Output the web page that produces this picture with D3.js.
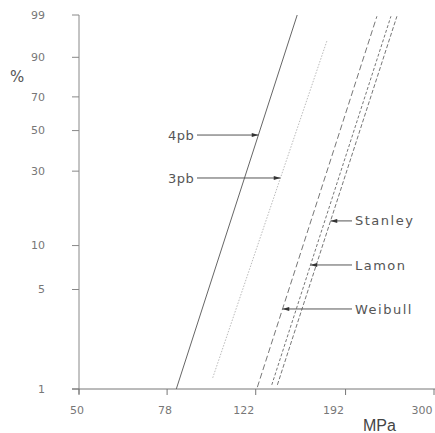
<!DOCTYPE html>
<html lang="en">
<head>
<meta charset="utf-8">
<title>Weibull plot</title>
<script src="https://d3js.org/d3.v7.min.js"></script>
<style>
    body { margin: 0; background: #fff; }
    .tick-label { font-family: "DejaVu Sans", sans-serif; font-size: 11px; fill: #777; }
    .curve-label { font-family: "DejaVu Sans", sans-serif; font-size: 13px; fill: #555; }
</style>
</head>
<body>
<svg id="chart" width="435" height="433"></svg>
<script>
// axis ticks
var xTicks = [50, 78, 122, 192, 300];
var yTicks = [1, 5, 10, 30, 50, 70, 90, 99];

// fitted lines: two end points each (MPa, %)
var series    = ["4pb", "3pb", "Weibull", "Lamon", "Stanley"];
var stressLow = [81.7, 98.2, 123.0, 132.3, 136.1];
var probLow   = [1, 1.2, 1.03, 1.07, 1.07];
var stressHigh = [150.4, 175.0, 224.9, 241.4, 248.8];
var probHigh  = [99, 95.3, 98.9, 98.9, 98.9];
// probability level where each label's arrow hits its line
var labelProb = [47.5, 27.3, 3.66, 7.38, 14.6];

var svg = d3.select("#chart");

var margin = {left: 79, right: 1, top: 15, bottom: 44};
var width = 435, height = 433;

function wb(p) { return Math.log(-Math.log(1 - p / 100)); }

var x = d3.scaleLog()
    .domain([50, 300])
    .range([margin.left, width - margin.right]);

var y = d3.scaleLinear()
    .domain([wb(1), wb(99)])
    .range([height - margin.bottom, margin.top]);

var y0 = y(wb(1));

// y axis
svg.append("line")
    .attr("x1", x(50)).attr("x2", x(50))
    .attr("y1", y(wb(99))).attr("y2", y0 + 5)
    .attr("stroke", "#888").attr("stroke-width", 1);

svg.selectAll(".ytick")
    .data(yTicks)
    .enter().append("line")
    .attr("x1", x(50) - 7).attr("x2", x(50))
    .attr("y1", function(d) { return y(wb(d)); })
    .attr("y2", function(d) { return y(wb(d)); })
    .attr("stroke", "#888");

svg.selectAll(".ylab")
    .data(yTicks)
    .enter().append("text")
    .attr("class", "tick-label")
    .attr("x", 45)
    .attr("y", function(d) { return y(wb(d)); })
    .attr("dy", "0.35em")
    .attr("text-anchor", "end")
    .text(function(d) { return d; });

svg.append("text")
    .attr("x", 10).attr("y", 82)
    .attr("font-family", "DejaVu Sans, sans-serif")
    .attr("font-size", 15)
    .attr("fill", "#555")
    .text("%");

// x axis
svg.append("line")
    .attr("x1", x(50) - 7).attr("x2", width)
    .attr("y1", y0).attr("y2", y0)
    .attr("stroke", "#777");

svg.selectAll(".xtick")
    .data(xTicks)
    .enter().append("line")
    .attr("x1", function(d) { return x(d); })
    .attr("x2", function(d) { return x(d); })
    .attr("y1", y0).attr("y2", y0 + 6)
    .attr("stroke", "#777");

svg.selectAll(".xlab")
    .data(xTicks)
    .enter().append("text")
    .attr("class", "tick-label")
    .attr("x", function(d) { return x(d) + (String(d).length === 3 ? -12 : -2); })
    .attr("y", y0 + 25)
    .attr("text-anchor", "middle")
    .text(function(d) { return d; });

svg.append("text")
    .attr("x", 363).attr("y", 431)
    .attr("font-family", "Liberation Sans, Arial, sans-serif")
    .attr("font-size", 16)
    .attr("fill", "#444")
    .text("MPa");

// lines
var styles = [
    {stroke: "#666", dash: null},
    {stroke: "#bbb", dash: "1.5,1.5"},
    {stroke: "#777", dash: "6,3"},
    {stroke: "#777", dash: "3,2"},
    {stroke: "#777", dash: "4,2"}
];

series.forEach(function(name, i) {
    svg.append("line")
        .attr("x1", x(stressLow[i])).attr("y1", y(wb(probLow[i])))
        .attr("x2", x(stressHigh[i])).attr("y2", y(wb(probHigh[i])))
        .attr("stroke", styles[i].stroke)
        .attr("stroke-width", 1)
        .attr("stroke-dasharray", styles[i].dash);
});

// where does line i cross probability p (pixel x)
function crossX(i, p) {
    var t = (wb(p) - wb(probLow[i])) / (wb(probHigh[i]) - wb(probLow[i]));
    var ls = Math.log(stressLow[i]) + t * (Math.log(stressHigh[i]) - Math.log(stressLow[i]));
    return x(Math.exp(ls));
}

// arrow head
svg.append("defs").append("marker")
    .attr("id", "head")
    .attr("viewBox", "0 0 10 6")
    .attr("refX", 10).attr("refY", 3)
    .attr("markerWidth", 8).attr("markerHeight", 4)
    .attr("markerUnits", "userSpaceOnUse")
    .attr("orient", "auto")
    .append("path")
    .attr("d", "M0,0L10,3L0,6Z")
    .attr("fill", "#333");

series.forEach(function(name, i) {
    var ly = y(wb(labelProb[i]));
    var tip = crossX(i, labelProb[i]);
    var left = i < 2;
    var from = left ? 197 : 352;
    svg.append("line")
        .attr("x1", from).attr("x2", tip)
        .attr("y1", ly).attr("y2", ly)
        .attr("stroke", "#555")
        .attr("stroke-width", 1)
        .attr("marker-end", "url(#head)");
    svg.append("text")
        .attr("class", "curve-label")
        .attr("x", left ? 168 : 355)
        .attr("y", ly)
        .attr("dy", "0.35em")
        .attr("letter-spacing", left ? 0.5 : 1.5)
        .text(name);
});
</script>
</body>
</html>
